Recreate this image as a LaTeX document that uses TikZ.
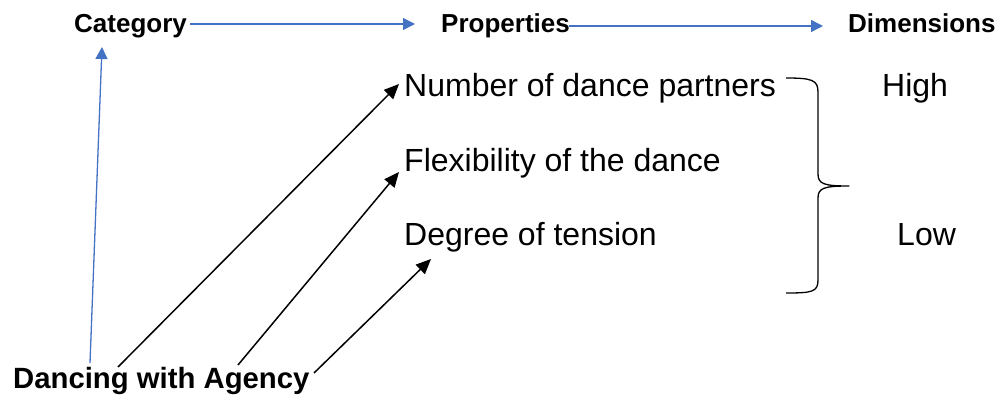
\documentclass[tikz,border=0pt]{standalone}
\usepackage{fontspec}
\setmainfont{Liberation Sans}
\usetikzlibrary{arrows.meta}
\definecolor{arrowblue}{RGB}{68,114,196}
\begin{document}
\begin{tikzpicture}[x=1pt,y=-1pt,
  hdr/.style={anchor=base west,inner sep=0pt,font=\fontsize{26}{30}\selectfont\bfseries},
  body/.style={anchor=base west,inner sep=0pt,font=\fontsize{32}{38}\selectfont},
  bluearrow/.style={draw=arrowblue,line width=1.3pt,-{Triangle[length=12pt,width=12pt]}},
  blackarrow/.style={draw=black,line width=1.5pt,-{Triangle[length=15pt,width=13pt]}}]
\useasboundingbox (0,0) rectangle (1002,401);
% headers
\node[hdr] (cat) at (74,33) {Category};
\node[hdr] (prop) at (441,33) {Properties};
\node[hdr] (dim) at (848,33) {Dimensions};
\node[anchor=base west,inner sep=0pt,font=\fontsize{29.3}{33}\selectfont\bfseries] (dwa) at (13,388) {Dancing with Agency};
% properties
\node[body] (num) at (404,97) {Number of dance partners};
\node[body] (flex) at (404,172) {Flexibility of the dance};
\node[body] (deg) at (404,245) {Degree of tension};
\node[body] (high) at (882,97) {High};
\node[body] (low) at (897,245) {Low};
% connector coordinates
\coordinate (c1s) at (190,24);
\coordinate (c1e) at (415,24);
\coordinate (c2s) at (569,26);
\coordinate (c2e) at (823,26);
\coordinate (c3s) at (90,363);
\coordinate (c3e) at (102,47);
\coordinate (a1s) at (118,367);
\coordinate (a1e) at (399,84);
\coordinate (a2s) at (238,365);
\coordinate (a2e) at (399,172);
\coordinate (a3s) at (314,373);
\coordinate (a3e) at (431,259);
\draw[bluearrow] (c1s) -- (c1e);
\draw[bluearrow] (c2s) -- (c2e);
\draw[bluearrow] (c3s) -- (c3e);
\draw[blackarrow] (a1s) -- (a1e);
\draw[blackarrow] (a2s) -- (a2e);
\draw[blackarrow] (a3s) -- (a3e);
% brace
\draw[line width=1.3pt,line join=round]
  (786,78) .. controls (812,78) and (818,80) .. (818,92)
  -- (818,174) .. controls (818,184) and (824,186) .. (849,186)
  .. controls (824,186) and (818,188) .. (818,198)
  -- (818,280) .. controls (818,292) and (812,293) .. (786,293);
\end{tikzpicture}
\end{document}
